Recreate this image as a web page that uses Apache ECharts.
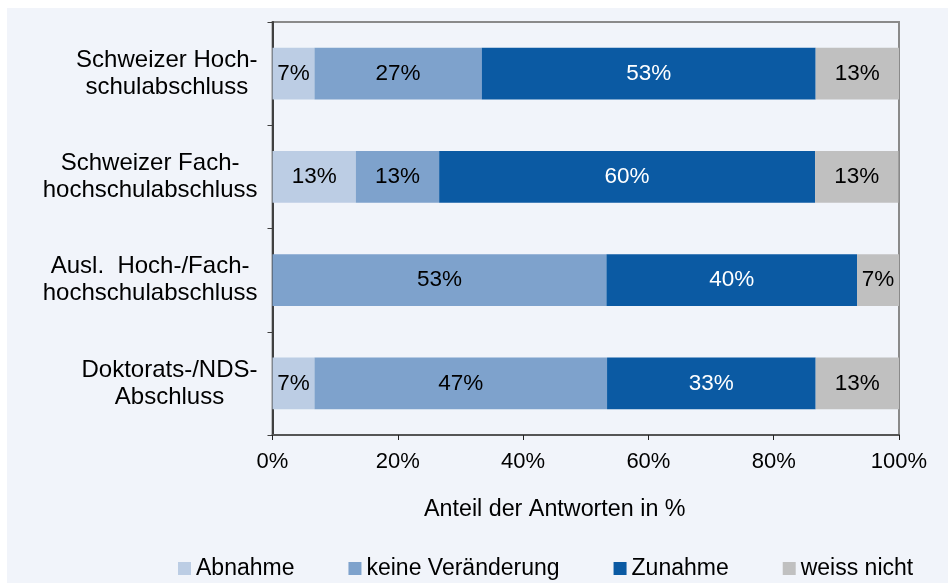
<!DOCTYPE html>
<html>
<head>
<meta charset="utf-8">
<script src="https://cdn.jsdelivr.net/npm/echarts@6/dist/echarts.min.js"></script>
<style>
html, body { margin: 0; padding: 0; background: #fff; }
#main { width: 948px; height: 583px; }
</style>
</head>
<body>
<div id="main"></div>
<script>
// Kategorien von oben nach unten
var categories = [
    'Schweizer Hoch-\nschulabschluss',
    'Schweizer Fach-\nhochschulabschluss',
    'Ausl.  Hoch-/Fach-\nhochschulabschluss',
    'Doktorats-/NDS-\nAbschluss'
];
var seriesNames = ['Abnahme', 'keine Veränderung', 'Zunahme', 'weiss nicht'];
var abnahme = [6.7, 13.3, 0, 6.7];
var keineVeraenderung = [26.7, 13.3, 53.3, 46.7];
var zunahme = [53.3, 60, 40, 33.3];
var weissNicht = [13.3, 13.3, 6.7, 13.3];
var xTicks = [0, 20, 40, 60, 80, 100];

var colors = ['#bccde4', '#7ea2cc', '#0b5aa3', '#c0c0c0'];
var labelColors = ['#000', '#000', '#fff', '#000'];
var values = [abnahme, keineVeraenderung, zunahme, weissNicht];

var font = '"Liberation Sans", Arial, sans-serif';

var myChart = echarts.init(document.getElementById('main'));

var series = [];
for (var i = 0; i < seriesNames.length; i++) {
    series.push({
        name: seriesNames[i],
        type: 'bar',
        stack: 'total',
        barWidth: '50%',
        data: values[i],
        itemStyle: { color: colors[i] },
        label: {
            show: true,
            position: 'inside',
            color: labelColors[i],
            fontSize: 22.5,
            fontFamily: font,
            formatter: function (p) {
                return p.value > 0 ? Math.round(p.value) + '%' : '';
            }
        }
    });
}

var option = {
    animation: false,
    backgroundColor: '#ffffff',
    graphic: [{
        type: 'rect',
        left: 7, top: 8,
        shape: { width: 941, height: 575 },
        style: { fill: '#f1f4fa' },
        z: -10
    }],
    grid: {
        left: 272.5,
        right: 49,
        top: 22,
        height: 413,
        show: true,
        borderColor: '#8a8a8a',
        borderWidth: 2,
        backgroundColor: 'transparent'
    },
    legend: {
        left: 173,
        top: 552,
        icon: 'rect',
        itemWidth: 13,
        itemHeight: 13,
        itemGap: 54,
        textStyle: { fontSize: 23, color: '#000', fontFamily: font },
        data: seriesNames
    },
    xAxis: {
        type: 'value',
        min: 0,
        max: 100,
        interval: 20,
        name: 'Anteil der Antworten in %',
        nameLocation: 'middle',
        nameGap: 63,
        nameTextStyle: { fontSize: 23.3, color: '#000', fontFamily: font, padding: [0, 62, 0, 0] },
        axisLine: { show: true, lineStyle: { color: '#555', width: 2 } },
        axisTick: { show: true, length: 5, lineStyle: { color: '#222' } },
        axisLabel: {
            fontSize: 22, color: '#000', fontFamily: font, margin: 16,
            formatter: function (v) { return xTicks.indexOf(v) >= 0 ? v + '%' : ''; }
        },
        splitLine: { show: false }
    },
    yAxis: {
        type: 'category',
        inverse: true,
        data: categories,
        axisLine: { show: true, lineStyle: { color: '#404040', width: 2 } },
        axisTick: { show: true, length: 5, lineStyle: { color: '#404040' } },
        axisLabel: {
            margin: 15,
            align: 'right',
            formatter: function (v) {
                return v.split('\n').map(function (s) { return '{a|' + s + '}'; }).join('\n');
            },
            rich: {
                a: { align: 'center', fontSize: 24, lineHeight: 27, color: '#000', fontFamily: font }
            }
        }
    },
    series: series
};

myChart.setOption(option);
</script>
</body>
</html>
